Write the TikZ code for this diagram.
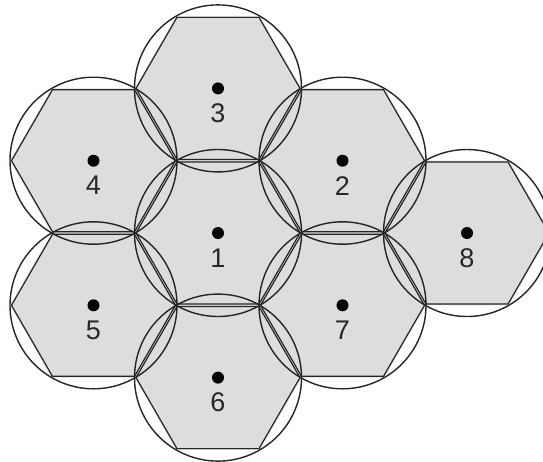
\documentclass[tikz,border=0pt]{standalone}
\usepackage{fontspec}
\setmainfont{Liberation Sans}
\usetikzlibrary{calc}
\begin{document}
\begin{tikzpicture}[x=1pt,y=-1pt,
  cellfill/.style={fill=cellgray,draw=none},
  hexline/.style={draw=linedark,line width=1.2pt},
  circline/.style={draw=linedark,line width=1.4pt},
  dotmark/.style={circle,fill=black,inner sep=0pt,minimum size=12pt},
  lbl/.style={font=\fontsize{27}{27}\selectfont,text=labelgray,inner sep=0pt}]
\definecolor{cellgray}{RGB}{221,221,221}
\definecolor{linedark}{RGB}{40,36,34}
\definecolor{labelgray}{RGB}{40,40,40}
\useasboundingbox (0,0) rectangle (543,461);
\clip (0,0) rectangle (543,461);
\def\R{83.5}
\def\H{82.0}
% centers
\coordinate (c1) at (218,233);
\coordinate (c3) at (218,88.4);
\coordinate (c6) at (218,377.6);
\coordinate (c4) at (93.5,160.7);
\coordinate (c5) at (93.5,305.3);
\coordinate (c2) at (342.5,160.7);
\coordinate (c7) at (342.5,305.3);
\coordinate (c8) at (467,233);
% fills
\foreach \c in {c1,c2,c3,c4,c5,c6,c7,c8}{
  \path[cellfill] ($(\c)+(0:\R)$) -- ($(\c)+(60:\R)$) -- ($(\c)+(120:\R)$) -- ($(\c)+(180:\R)$) -- ($(\c)+(240:\R)$) -- ($(\c)+(300:\R)$) -- cycle;
}
\foreach \c in {c1,c2,c3,c4,c5,c6,c7,c8}{
  \draw[hexline,line join=round] ($(\c)+(0:\H)$) -- ($(\c)+(60:\H)$) -- ($(\c)+(120:\H)$) -- ($(\c)+(180:\H)$) -- ($(\c)+(240:\H)$) -- ($(\c)+(300:\H)$) -- cycle;
  \draw[circline] (\c) circle (\R);
}
\foreach \c/\t in {c1/1,c2/2,c3/3,c4/4,c5/5,c6/6,c7/7,c8/8}{
  \node[dotmark] (d\t) at (\c) {};
  \node[lbl] (l\t) at ($(\c)+(0,25)$) {\t};
}
\end{tikzpicture}
\end{document}
